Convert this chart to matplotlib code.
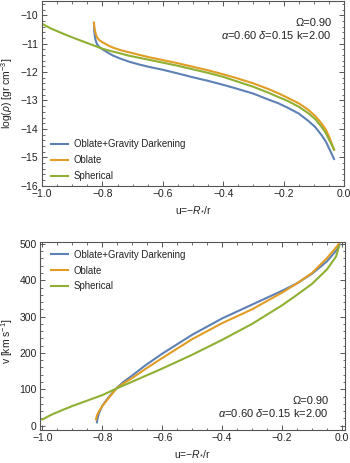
import numpy as np
import matplotlib
matplotlib.use("Agg")
import matplotlib.pyplot as plt
from matplotlib.ticker import MultipleLocator

plt.rcParams['font.family'] = ['Liberation Sans', 'DejaVu Sans']
plt.rcParams['mathtext.fontset'] = 'custom'
plt.rcParams['mathtext.rm'] = 'Liberation Sans'
plt.rcParams['mathtext.it'] = 'Liberation Sans:italic'
plt.rcParams['mathtext.bf'] = 'Liberation Sans:bold'

labels = ["Oblate+Gravity Darkening", "Oblate", "Spherical"]
colors = ["#5E81B5", "#E19C24", "#8FB032"]
xtick_vals = [-1.0, -0.8, -0.6, -0.4, -0.2, 0.0]
xtick_labels = ['\u22121.0', '\u22120.8', '\u22120.6', '\u22120.4', '\u22120.2', '0.0']

# ---- Top panel: log(rho) vs u ----
u_gd_top = [-0.828, -0.827, -0.825, -0.822, -0.818, -0.81, -0.80, -0.78, -0.765, -0.74,
            -0.71, -0.68, -0.645, -0.6, -0.55, -0.502, -0.45, -0.4, -0.36, -0.3,
            -0.25, -0.217, -0.184, -0.15, -0.118, -0.095, -0.075, -0.06, -0.047, -0.033]
rho_gd = [-10.28, -10.55, -10.75, -10.90, -11.02, -11.12, -11.20, -11.33, -11.42, -11.53,
          -11.64, -11.73, -11.82, -11.92, -12.05, -12.18, -12.31, -12.45, -12.57, -12.76,
          -12.97, -13.10, -13.27, -13.46, -13.72, -13.94, -14.21, -14.45, -14.74, -15.06]

u_ob_top = [-0.828, -0.827, -0.825, -0.822, -0.818, -0.81, -0.80, -0.78, -0.765, -0.74,
            -0.71, -0.68, -0.645, -0.6, -0.55, -0.502, -0.45, -0.4, -0.36, -0.3,
            -0.25, -0.217, -0.184, -0.15, -0.118, -0.095, -0.075, -0.06, -0.047, -0.033]
rho_ob = [-10.26, -10.40, -10.52, -10.66, -10.78, -10.88, -10.95, -11.07, -11.14, -11.23,
          -11.31, -11.39, -11.48, -11.58, -11.69, -11.81, -11.94, -12.08, -12.20, -12.40,
          -12.60, -12.75, -12.92, -13.10, -13.33, -13.55, -13.80, -14.03, -14.33, -14.74]

u_sp_top = [-1.0, -0.97, -0.93, -0.9, -0.875, -0.85, -0.82, -0.8, -0.765, -0.71,
            -0.645, -0.6, -0.55, -0.502, -0.45, -0.4, -0.36, -0.3, -0.25, -0.217,
            -0.184, -0.15, -0.118, -0.095, -0.075, -0.06, -0.047, -0.033]
rho_sp = [-10.30, -10.47, -10.65, -10.78, -10.88, -10.98, -11.10, -11.18, -11.28, -11.43,
          -11.57, -11.67, -11.78, -11.90, -12.03, -12.17, -12.31, -12.52, -12.73, -12.88,
          -13.03, -13.22, -13.45, -13.66, -13.92, -14.15, -14.43, -14.72]

# ---- Bottom panel: v vs u ----
u_gd_bot = [-0.818, -0.816, -0.812, -0.806, -0.8, -0.79, -0.777, -0.76, -0.75, -0.73,
            -0.7, -0.656, -0.6, -0.5, -0.4, -0.3, -0.2, -0.149, -0.1, -0.05, -0.017, -0.008]
v_gd = [9, 20, 32, 44, 54, 66, 80, 96, 105, 120,
        138, 166, 198, 250, 295, 333, 371, 392, 418, 452, 484, 498]

u_ob_bot = [-0.821, -0.818, -0.812, -0.806, -0.8, -0.79, -0.777, -0.76, -0.75, -0.73,
            -0.7, -0.656, -0.6, -0.5, -0.4, -0.3, -0.2, -0.149, -0.1, -0.05, -0.017, -0.006]
v_ob = [17, 28, 38, 46, 54, 64, 78, 95, 104, 116,
        131, 156, 186, 238, 282, 320, 366, 392, 420, 461, 493, 506]

u_sp_bot = [-1.0, -0.97, -0.93, -0.9, -0.85, -0.8, -0.753, -0.7, -0.6, -0.5,
            -0.4, -0.3, -0.2, -0.15, -0.1, -0.05, -0.02, -0.01]
v_sp = [17, 30, 44, 54, 69, 84, 102, 121, 157, 195,
        236, 280, 331, 360, 390, 430, 465, 493]

fig = plt.figure(figsize=(3.5, 4.63), dpi=100)
W, H = 350.0, 463.0
ax1 = fig.add_axes([42 / W, 1 - 185.7 / H, 302 / W, 184.7 / H])
ax2 = fig.add_axes([40 / W, 1 - 430 / H, 305 / W, 188.3 / H])

frame_col = "#555555"
txt_col = '#222222'
fs = 7.5
fs_leg = 6.9
fs_ann = 8.0


def style(ax):
    for s in ax.spines.values():
        s.set_color(frame_col)
        s.set_linewidth(0.8)
    ax.tick_params(which='both', direction='in', top=True, right=True,
                   color=frame_col, labelsize=fs, labelcolor=txt_col, pad=2.5)
    ax.tick_params(which='major', length=3.5, width=0.7)
    ax.tick_params(which='minor', length=1.8, width=0.6)
    ax.tick_params(labeltop=False, labelright=False)


lw = 1.5
ax1.plot(u_gd_top, rho_gd, color=colors[0], lw=lw, label=labels[0])
ax1.plot(u_ob_top, rho_ob, color=colors[1], lw=lw, label=labels[1])
ax1.plot(u_sp_top, rho_sp, color=colors[2], lw=lw, label=labels[2])
ax1.set_xlim(-1.0, 0.0)
ax1.set_ylim(-16, -9.5)
ax1.set_xticks(xtick_vals)
ax1.set_xticklabels(xtick_labels)
ax1.xaxis.set_minor_locator(MultipleLocator(0.05))
ax1.yaxis.set_major_locator(MultipleLocator(1))
ax1.yaxis.set_minor_locator(MultipleLocator(0.2))
style(ax1)
ax1.set_ylabel(r'log($\rho$) [gr cm$^{-3}$]', fontsize=fs, color=txt_col)
ax1.yaxis.set_label_coords(-0.088, 0.5)
ax1.set_xlabel('u=\u2212$R_{*}$/r', fontsize=fs, color=txt_col)
ax1.xaxis.set_label_coords(0.5, -0.105)
ax1.text(0.958, 0.881, '\u03a9=0.90', transform=ax1.transAxes, ha='right', va='center',
         fontsize=fs_ann, color=txt_col)
ax1.text(0.958, 0.814, r'$\alpha$=0.60 $\delta$=0.15 k=2.00', transform=ax1.transAxes,
         ha='right', va='center', fontsize=fs_ann, color=txt_col)
ax1.legend(loc='upper left', bbox_to_anchor=(0.03, 0.252), frameon=False, fontsize=fs_leg,
           handlelength=1.75, handletextpad=0.6, labelspacing=0.62, borderpad=0,
           borderaxespad=0, labelcolor=txt_col)

ax2.plot(u_gd_bot, v_gd, color=colors[0], lw=lw, label=labels[0])
ax2.plot(u_ob_bot, v_ob, color=colors[1], lw=lw, label=labels[1])
ax2.plot(u_sp_bot, v_sp, color=colors[2], lw=lw, label=labels[2])
ax2.set_xlim(-1.008, 0.01)
ax2.set_ylim(-12, 506)
ax2.set_xticks(xtick_vals)
ax2.set_xticklabels(xtick_labels)
ax2.xaxis.set_minor_locator(MultipleLocator(0.05))
ax2.yaxis.set_major_locator(MultipleLocator(100))
ax2.yaxis.set_minor_locator(MultipleLocator(20))
style(ax2)
ax2.set_ylabel(r'v [km s$^{-1}$]', fontsize=fs, color=txt_col)
ax2.yaxis.set_label_coords(-0.082, 0.47)
ax2.set_xlabel('u=\u2212$R_{*}$/r', fontsize=fs, color=txt_col)
ax2.xaxis.set_label_coords(0.5, -0.1)
ax2.text(0.945, 0.154, '\u03a9=0.90', transform=ax2.transAxes, ha='right', va='center',
         fontsize=fs_ann, color=txt_col)
ax2.text(0.945, 0.089, r'$\alpha$=0.60 $\delta$=0.15 k=2.00', transform=ax2.transAxes,
         ha='right', va='center', fontsize=fs_ann, color=txt_col)
ax2.legend(loc='upper left', bbox_to_anchor=(0.036, 0.958), frameon=False, fontsize=fs_leg,
           handlelength=1.75, handletextpad=0.6, labelspacing=0.62, borderpad=0,
           borderaxespad=0, labelcolor=txt_col)

fig.savefig('out.png', dpi=100)
